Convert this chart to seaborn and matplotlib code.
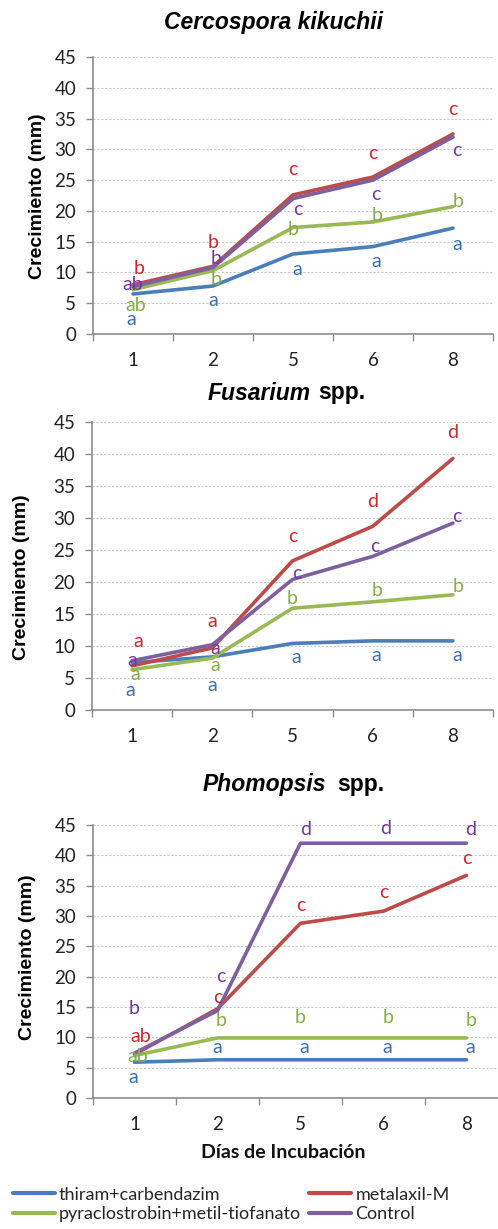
import matplotlib
matplotlib.use("Agg")
import matplotlib.pyplot as plt
import seaborn as sns
import pandas as pd
import numpy as np
from matplotlib.lines import Line2D

sns.set_theme(style="white")
plt.rcParams['font.family'] = ['Lato', 'DejaVu Sans']

# ---------------- data ----------------
days = ["1", "2", "5", "6", "8"]
treatments = ["thiram+carbendazim", "metalaxil-M",
              "pyraclostrobin+metil-tiofanato", "Control"]

# Cercospora kikuchii
cerc_thiram = [6.5, 7.8, 13.0, 14.2, 17.2]
cerc_metal = [8.0, 11.0, 22.6, 25.5, 32.5]
cerc_pyra = [7.2, 10.3, 17.3, 18.2, 20.7]
cerc_control = [7.7, 10.8, 22.0, 25.0, 32.0]

# Fusarium spp.
fus_thiram = [7.4, 8.3, 10.4, 10.8, 10.8]
fus_metal = [6.9, 9.7, 23.3, 28.7, 39.3]
fus_pyra = [6.3, 8.1, 15.9, 16.9, 18.0]
fus_control = [7.7, 10.2, 20.4, 24.0, 29.2]

# Phomopsis spp.
phom_thiram = [5.9, 6.3, 6.3, 6.3, 6.3]
phom_metal = [7.2, 14.7, 28.8, 30.8, 36.7]
phom_pyra = [7.0, 9.9, 9.9, 9.9, 9.9]
phom_control = [7.4, 14.4, 42.0, 42.0, 42.0]

# significance letters
cerc_let_thiram = ["a", "a", "a", "a", "a"]
cerc_let_metal = ["b", "b", "c", "c", "c"]
cerc_let_pyra = ["ab", "b", "b", "b", "b"]
cerc_let_control = ["ab", "b", "c", "c", "c"]

fus_let_thiram = ["a", "a", "a", "a", "a"]
fus_let_metal = ["a", "a", "c", "d", "d"]
fus_let_pyra = ["a", "a", "b", "b", "b"]
fus_let_control = ["a", "a", "c", "c", "c"]

phom_let_thiram = ["a", "a", "a", "a", "a"]
phom_let_metal = ["ab", "c", "c", "c", "c"]
phom_let_pyra = ["ab", "b", "b", "b", "b"]
phom_let_control = ["b", "c", "d", "d", "d"]

# label placement (data units) for the letters
cerc_lab_y = {"thiram+carbendazim": [2.3, 5.4, 10.4, 11.8, 14.5],
              "metalaxil-M": [10.7, 14.9, 26.7, 29.4, 36.4],
              "pyraclostrobin+metil-tiofanato": [4.7, 8.9, 17.0, 19.2, 21.5],
              "Control": [8.0, 12.3, 20.2, 22.7, 29.8]}
fus_lab_y = {"thiram+carbendazim": [3.1, 3.9, 8.2, 8.5, 8.5],
             "metalaxil-M": [10.7, 13.8, 27.1, 32.6, 43.3],
             "pyraclostrobin+metil-tiofanato": [5.5, 7.0, 17.5, 18.6, 19.3],
             "Control": [7.8, 9.6, 21.4, 25.5, 30.2]}
phom_lab_y = {"thiram+carbendazim": [3.3, 8.4, 8.4, 8.4, 8.4],
              "metalaxil-M": [10.2, 16.5, 31.7, 33.8, 39.4],
              "pyraclostrobin+metil-tiofanato": [6.9, 12.7, 13.2, 13.2, 12.7],
              "Control": [14.8, 20.0, 44.2, 44.5, 44.3]}
lab_dx = {"thiram+carbendazim": [-0.02, 0.0, 0.05, 0.04, 0.05],
          "metalaxil-M": [0.08, 0.0, 0.0, 0.0, 0.0],
          "pyraclostrobin+metil-tiofanato": [0.04, 0.04, 0.0, 0.05, 0.06],
          "Control": [0.0, 0.04, 0.06, 0.03, 0.05]}

line_colors = {"thiram+carbendazim": "#4A7EBB", "metalaxil-M": "#BE4B48",
               "pyraclostrobin+metil-tiofanato": "#98B954", "Control": "#7D60A0"}
letter_colors = {"thiram+carbendazim": "#3F70B2", "metalaxil-M": "#D4262C",
                 "pyraclostrobin+metil-tiofanato": "#86AD48", "Control": "#7438A6"}

panels = [
    ("cerc", [cerc_thiram, cerc_metal, cerc_pyra, cerc_control],
     [cerc_let_thiram, cerc_let_metal, cerc_let_pyra, cerc_let_control], cerc_lab_y),
    ("fus", [fus_thiram, fus_metal, fus_pyra, fus_control],
     [fus_let_thiram, fus_let_metal, fus_let_pyra, fus_let_control], fus_lab_y),
    ("phom", [phom_thiram, phom_metal, phom_pyra, phom_control],
     [phom_let_thiram, phom_let_metal, phom_let_pyra, phom_let_control], phom_lab_y),
]

W, H = 498, 1229
fig = plt.figure(figsize=(W / 100, H / 100), dpi=100)

def px(l, t, r, b):
    return [l / W, 1 - b / H, (r - l) / W, (b - t) / H]

rects = [px(93, 57, 493, 334), px(92, 422, 493, 710), px(93, 825, 508, 1098)]

for (name, series, letters, laby), rect in zip(panels, rects):
    ax = fig.add_axes(rect)
    rows = []
    for tr, vals in zip(treatments, series):
        for i, v in enumerate(vals):
            rows.append({"pos": i, "value": v, "treatment": tr})
    df = pd.DataFrame(rows)
    sns.lineplot(data=df, x="pos", y="value", hue="treatment", palette=line_colors,
                 linewidth=2.6, ax=ax, legend=False, zorder=3)
    for tr, lets in zip(treatments, letters):
        for i, lt in enumerate(lets):
            ax.text(i + lab_dx[tr][i], laby[tr][i], lt, ha="center", va="center",
                    fontsize=14, color=letter_colors[tr], zorder=4)
    ax.set_xlim(-0.5, 4.5)
    ax.set_ylim(0, 45)
    ax.set_yticks(np.arange(0, 46, 5))
    ax.set_xticks(range(5))
    ax.set_xticklabels(days)
    ax.set_xticks(np.arange(-0.5, 4.6, 1), minor=True)
    ax.tick_params(axis="x", which="major", length=0, pad=13, labelsize=13.5,
                   labelcolor="#222222")
    ax.tick_params(axis="x", which="minor", length=5, width=1, color="#8C8C8C",
                   direction="out", bottom=True)
    ax.tick_params(axis="y", which="major", length=5, width=1, color="#8C8C8C",
                   direction="out", left=True, pad=7, labelsize=13.5,
                   labelcolor="#222222")
    ax.yaxis.grid(True, linestyle=(0, (2, 1.5)), color="#C8C8C8", linewidth=0.8)
    ax.set_axisbelow(True)
    for s in ["top", "right"]:
        ax.spines[s].set_visible(False)
    for s in ["left", "bottom"]:
        ax.spines[s].set_color("#8C8C8C")
        ax.spines[s].set_linewidth(1.2)
    ax.set_xlabel("")
    ax.set_ylabel("")
    ax.set_facecolor("white")

# titles
tfont = dict(fontsize=16.5, fontweight="bold", color="black",
             family=["Liberation Sans", "DejaVu Sans"], va="center")
fig.text(273 / W, 1 - 22 / H, "Cercospora kikuchii", ha="center", style="italic", **tfont)
fig.text(311 / W, 1 - 393 / H, "Fusarium", ha="right", style="italic", **tfont)
fig.text(318 / W, 1 - 393 / H, "spp.", ha="left", **tfont)
fig.text(326 / W, 1 - 784 / H, "Phomopsis", ha="right", style="italic", **tfont)
fig.text(337 / W, 1 - 784 / H, "spp.", ha="left", **tfont)

# y labels
yfont = dict(fontsize=14, fontweight="bold", color="black", rotation=90,
             ha="center", va="center", family=["Liberation Sans", "DejaVu Sans"])
fig.text(38 / W, 1 - 196 / H, "Crecimiento (mm)", **yfont)
fig.text(22 / W, 1 - 577 / H, "Crecimiento (mm)", **yfont)
fig.text(27 / W, 1 - 957 / H, "Crecimiento (mm)", **yfont)

# x label
fig.text(283 / W, 1 - 1153 / H, "Días de Incubación", ha="center", va="center",
         fontsize=14, fontweight="bold", color="#111111")

# legend
order = ["thiram+carbendazim", "pyraclostrobin+metil-tiofanato", "metalaxil-M", "Control"]
handles = [Line2D([0], [0], color=line_colors[t], lw=3) for t in order]
fig.legend(handles, order, ncol=2, loc="center left",
           bbox_to_anchor=(13 / W, 1 - 1204.5 / H), frameon=False,
           handlelength=2.3, handletextpad=0.25, columnspacing=0.45,
           labelspacing=0.2, borderaxespad=0, borderpad=0,
           prop={"family": ["Lato", "DejaVu Sans"], "size": 13})

fig.savefig("out.png", dpi=100, facecolor="white")
